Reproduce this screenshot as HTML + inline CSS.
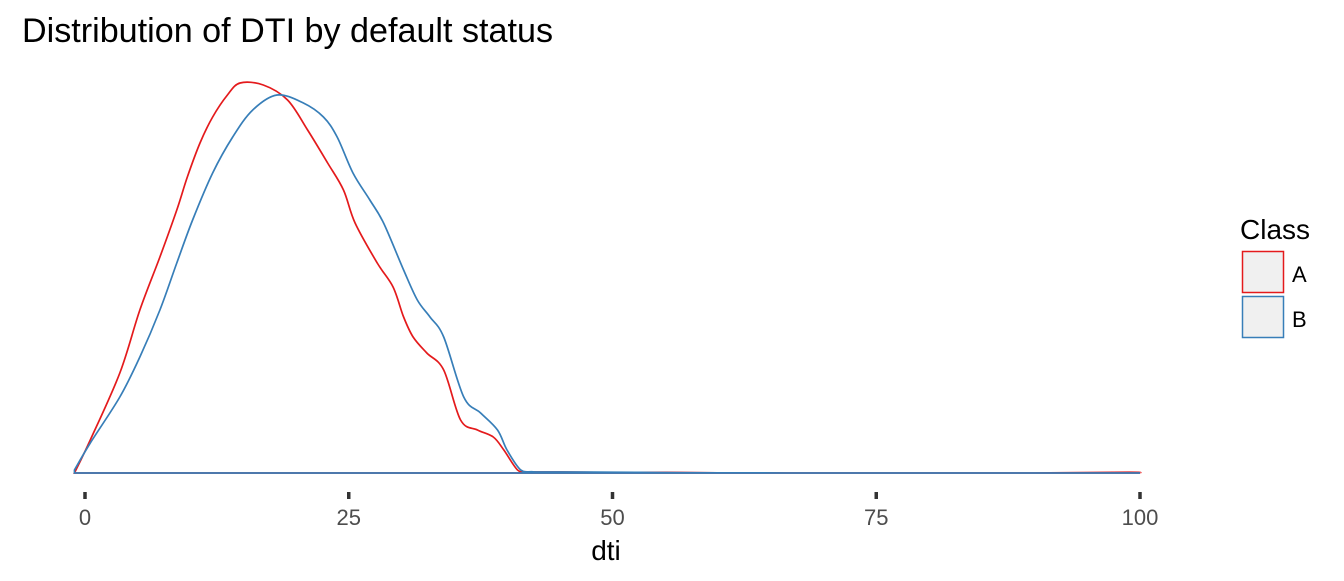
<!DOCTYPE html>
<html><head><meta charset="utf-8"><style>
body{margin:0;background:#fff;font-family:"Liberation Sans",Arial,sans-serif}
</style></head><body>
<svg id="chart" width="1344" height="576" xmlns="http://www.w3.org/2000/svg">
<text x="22" y="42" font-size="34" fill="#000" textLength="531" lengthAdjust="spacingAndGlyphs">Distribution of DTI by default status</text>
<g id="axis"></g>
<g id="series"></g>
<text x="606" y="560" font-size="28" text-anchor="middle" fill="#000">dti</text>
<g>
<text x="1240" y="239" font-size="28" fill="#000">Class</text>
<rect x="1242.5" y="251.5" width="41" height="41" fill="#f0f0f0" stroke="#e41a1c" stroke-width="1.5"/>
<text x="1292" y="282" font-size="22" fill="#000">A</text>
<rect x="1242.5" y="296.5" width="41" height="41" fill="#f0f0f0" stroke="#377eb8" stroke-width="1.5"/>
<text x="1292" y="327" font-size="22" fill="#000">B</text>
</g>
</svg>
<script>
const xTicks=[0,25,50,75,100];
const xA=[-1,0.5,3.3,5.2,7.1,8.7,9.7,10.9,12.1,13.5,14.7,16.9,19.2,21.1,23,24.5,25.6,27.7,29.2,30.2,31.1,32.4,34,35.6,37.2,38.7,39.7,41,41.9,45,50,55,60,70,80,90,99,100];
const dA=[0,33,100,163,216,263,296,330,356,378,390,388,373,343,310,283,250,210,186,156,136,120,103,53,43,36,23,3,1.2,1,0.6,0.6,0.2,0,0,0,0.8,0];
const xB=[-1,0.5,3.3,5.2,7.1,8.7,10.2,12.1,14,15.9,18.2,20.7,22.6,23.9,25.4,27,28.3,30.2,31.5,32.7,34,35.9,37.5,39.1,40,41.3,42.5,45,50,55,60,70,80,90,100];
const dB=[3,30,76,116,163,210,253,300,336,363,378,370,356,336,300,273,250,203,173,156,136,76,60,43,23,3,1.2,1,0.8,0.4,0.2,0,0,0,0];
const X0=85,X1=1140,Y0=473,Y1=73;
const xs=v=>X0+(v-0)/(100-0)*(X1-X0);
const ys=v=>Y0-(v/400)*(Y0-Y1);
const NS='http://www.w3.org/2000/svg';
const ax=document.getElementById('axis');
xTicks.forEach(t=>{
 const l=document.createElementNS(NS,'line');
 
 
 l.setAttribute('x1',xs(t));l.setAttribute('x2',xs(t));l.setAttribute('y1',492);l.setAttribute('y2',499);
 l.setAttribute('stroke','#333');l.setAttribute('stroke-width','3.5');ax.appendChild(l);
 const tx=document.createElementNS(NS,'text');
 
 
 tx.setAttribute('x',xs(t));tx.setAttribute('y',525);tx.setAttribute('font-size','22');
 tx.setAttribute('text-anchor','middle');tx.setAttribute('fill','#4d4d4d');tx.textContent=t;ax.appendChild(tx);
});
function pathFor(xv,dv){
 const p=xv.map((x,i)=>[xs(x),ys(dv[i])]);
 let d='M'+p[0][0]+','+p[0][1];
 for(let i=0;i<p.length-1;i++){
  const p0=p[Math.max(0,i-1)],p1=p[i],p2=p[i+1],p3=p[Math.min(p.length-1,i+2)];
  const c1=[p1[0]+(p2[0]-p0[0])/6,p1[1]+(p2[1]-p0[1])/6];
  const c2=[p2[0]-(p3[0]-p1[0])/6,p2[1]-(p3[1]-p1[1])/6];
  c1[1]=Math.min(c1[1],Y0);c2[1]=Math.min(c2[1],Y0);
  d+=' C'+c1+' '+c2+' '+p2;
 }
 d+=' L'+xs(xv[0])+','+Y0+' Z';
 return d;
}
const g=document.getElementById('series');
[[xA,dA,'#e41a1c','density-a'],[xB,dB,'#377eb8','density-b']].forEach(s=>{
 const p=document.createElementNS(NS,'path');
 
 
 p.setAttribute('d',pathFor(s[0],s[1]));p.setAttribute('fill','none');
 p.setAttribute('stroke',s[2]);p.setAttribute('stroke-width','1.7');
 g.appendChild(p);
});
</script>
</body></html>
